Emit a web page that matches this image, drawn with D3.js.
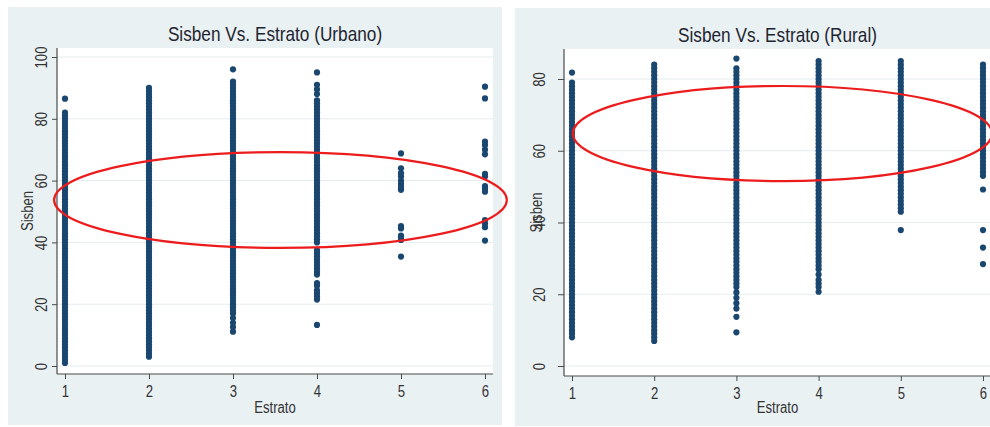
<!DOCTYPE html>
<html><head><meta charset="utf-8">
<script src="https://cdn.jsdelivr.net/npm/d3@7"></script>
<style>html,body{margin:0;padding:0;background:#fff;} svg{display:block;}</style>
</head><body>
<svg id="chart" width="990" height="427"></svg>
<script>
// ---------- DATA ----------
const categories = [1, 2, 3, 4, 5, 6];

// Urbano: Sisben values for each Estrato
const urbano1 = [1,2,3,4,5,6,7,8,9,10,11,12,13,14,15,16,17,18,19,20,21,22,23,24,25,26,27,28,29,30,31,32,33,34,35,36,37,38,39,40,41,42,43,44,45,46,47,48,49,50,51,52,53,54,55,56,57,58,59,60,61,62,63,64,65,66,67,68,69,70,71,72,73,74,75,76,77,78,79,80,81,82,86.5];
const urbano2 = [3,4,5,6,7,8,9,10,11,12,13,14,15,16,17,18,19,20,21,22,23,24,25,26,27,28,29,30,31,32,33,34,35,36,37,38,39,40,41,42,43,44,45,46,47,48,49,50,51,52,53,54,55,56,57,58,59,60,61,62,63,64,65,66,67,68,69,70,71,72,73,74,75,76,77,78,79,80,81,82,83,84,85,86,87,88,89,90];
const urbano3 = [11.1,12.6,14,15.5,17,18,19,20,21,22,23,24,25,26,27,28,29,30,31,32,33,34,35,36,37,38,39,40,41,42,43,44,45,46,47,48,49,50,51,52,53,54,55,56,57,58,59,60,61,62,63,64,65,66,67,68,69,70,71,72,73,74,75,76,77,78,79,80,81,82,83,84,85,86,87,88,89,90,91,92,96];
const urbano4 = [13.3,21.5,22.5,23.5,24.5,26,26.8,29.6,30.5,31.5,32.5,33.5,34.5,35.5,36.5,37.5,40,41,42,43,44,45,46,47,48,49,50,51,52,53,54,55,56,57,58,59,60,61,62,63,64,65,66,67,68,69,70,71,72,73,74,75,76,77,78,79,80,81,82,83,84,85,86,88,89.5,91,95];
const urbano5 = [35.4,40.8,41.6,42.2,44.5,45.3,57,58,59,60,61.3,62.4,64,68.8];
const urbano6 = [40.6,44.9,46,47.2,56.4,57.4,58.2,61.3,62.2,68.5,70,71.5,72.6,86.6,90.4];

// Rural: Sisben values for each Estrato
const rural1 = [8,9,10,11,12,13,14,15,16,17,18,19,20,21,22,23,24,25,26,27,28,29,30,31,32,33,34,35,36,37,38,39,40,41,42,43,44,45,46,47,48,49,50,51,52,53,54,55,56,57,58,59,60,61,62,63,64,65,66,67,68,69,70,71,72,73,74,75,76,77,78,79,81.8];
const rural2 = [7,8,9,10,11,12,13,14,15,16,17,18,19,20,21,22,23,24,25,26,27,28,29,30,31,32,33,34,35,36,37,38,39,40,41,42,43,44,45,46,47,48,49,50,51,52,53,54,55,56,57,58,59,60,61,62,63,64,65,66,67,68,69,70,71,72,73,74,75,76,77,78,79,80,81,82,83,84];
const rural3 = [9.4,13.7,16,17.5,19,20.5,22,23,24,25,26,27,28,29,30,31,32,33,34,35,36,37,38,39,40,41,42,43,44,45,46,47,48,49,50,51,52,53,54,55,56,57,58,59,60,61,62,63,64,65,66,67,68,69,70,71,72,73,74,75,76,77,78,79,80,81,82,83,85.7];
const rural4 = [20.7,22,23,24,25.5,27,28,29,30,31,32,33,34,35,36,37,38,39,40,41,42,43,44,45,46,47,48,49,50,51,52,53,54,55,56,57,58,59,60,61,62,63,64,65,66,67,68,69,70,71,72,73,74,75,76,77,78,79,80,81,82,83,84,85];
const rural5 = [37.9,43,44,45,46,47,48,49,50,51,52,53,54,55,56,57,58,59,60,61,62,63,64,65,66,67,68,69,70,71,72,73,74,75,76,77,78,79,80,81,82,83,84,85];
const rural6 = [28.4,33,37.9,49.2,53,54,55,56,57,58,59,60,61,62,63,64,65,66,67,68,69,70,71,72,73,74,75,76,77,78,79,80,81,82,83,84];

const urbanoSeries = [urbano1, urbano2, urbano3, urbano4, urbano5, urbano6];
const ruralSeries = [rural1, rural2, rural3, rural4, rural5, rural6];

const urbanoYTicks = [0, 20, 40, 60, 80, 100];
const ruralYTicks = [0, 20, 40, 60, 80];

// annotation ellipses in data units: [center Estrato, center Sisben, radius Estrato, radius Sisben]
const urbanoEllipse = [3.565, 53.7, 2.695, 15.5];
const ruralEllipse = [3.56, 64.8, 2.55, 13.25];

const titles = ["Sisben Vs. Estrato (Urbano)", "Sisben Vs. Estrato (Rural)"];
const xTitle = "Estrato";
const yTitle = "Sisben";

// ---------- DRAW ----------
const FONT = "'Liberation Sans',Arial,sans-serif";
const SQ = 0.82; // narrow-font look
const BG = "#eaf1f3";
const DOT = "#1a476f";
const AXIS = "#4a4a4a";
const svg = d3.select("#chart");
svg.append("rect").attr("width", 990).attr("height", 427).attr("fill", "#fff");

const panels = [
  {series: urbanoSeries, ticks: urbanoYTicks, ell: urbanoEllipse, title: titles[0],
   bg: [8, 7, 494, 418], plot: [57, 48, 493, 374], xr: [65, 485], yd: [0, 100], yr: [366, 57],
   tickLen: 5, labOff: 10, yTitleOff: 24, titleY: 41},
  {series: ruralSeries, ticks: ruralYTicks, ell: ruralEllipse, title: titles[1],
   bg: [515, 8, 480, 418], plot: [564, 49, 991, 376], xr: [572, 983], yd: [0, 80], yr: [366, 79],
   tickLen: 6, labOff: 19, yTitleOff: 22, titleY: 42}
];

const ellipses = [];
panels.forEach(p => {
  const g = svg.append("g");
  g.append("rect").attr("x", p.bg[0]).attr("y", p.bg[1]).attr("width", p.bg[2]).attr("height", p.bg[3]).attr("fill", BG);
  g.append("rect").attr("x", p.plot[0]).attr("y", p.plot[1])
    .attr("width", p.plot[2] - p.plot[0]).attr("height", p.plot[3] - p.plot[1]).attr("fill", "#fff");

  const x = d3.scaleLinear().domain([1, 6]).range(p.xr);
  const y = d3.scaleLinear().domain(p.yd).range(p.yr);

  g.append("g").selectAll("line").data(p.ticks).join("line")
    .attr("x1", p.plot[0]).attr("x2", p.plot[2])
    .attr("y1", d => y(d)).attr("y2", d => y(d))
    .attr("stroke", "#e4ecef").attr("stroke-width", 1);

  p.series.forEach((vals, i) => {
    g.append("g").selectAll("circle").data(vals).join("circle")
      .attr("cx", x(categories[i])).attr("cy", d => y(d))
      .attr("r", 3.1).attr("fill", DOT);
  });

  // y axis
  const ya = g.append("g").attr("transform", `translate(${p.plot[0]},0)`)
    .call(d3.axisLeft(y).tickValues(p.ticks).tickFormat(d3.format("d")).tickSize(p.tickLen).tickSizeOuter(0));
  ya.select(".domain").remove();
  ya.selectAll(".tick line").attr("stroke", AXIS);
  ya.selectAll(".tick text")
    .attr("transform", `rotate(-90) scale(${SQ},1)`).attr("x", 0).attr("y", -p.labOff).attr("dy", 0)
    .attr("text-anchor", "middle").attr("fill", "#333")
    .style("font-family", FONT).style("font-size", "16px");
  g.append("line").attr("x1", p.plot[0]).attr("x2", p.plot[0]).attr("y1", p.plot[1]).attr("y2", p.plot[3])
    .attr("stroke", AXIS).attr("stroke-width", 1.2);

  // x axis
  const xa = g.append("g").attr("transform", `translate(0,${p.plot[3]})`)
    .call(d3.axisBottom(x).tickValues(categories).tickFormat(d3.format("d")).tickSize(5).tickPadding(7).tickSizeOuter(0));
  xa.select(".domain").remove();
  xa.selectAll(".tick line").attr("stroke", AXIS);
  xa.selectAll(".tick text").attr("fill", "#333").attr("transform", `scale(${SQ},1)`)
    .style("font-family", FONT).style("font-size", "16px");
  g.append("line").attr("x1", p.plot[0]).attr("x2", p.plot[2]).attr("y1", p.plot[3]).attr("y2", p.plot[3])
    .attr("stroke", AXIS).attr("stroke-width", 1.2);

  const cx = (p.plot[0] + p.plot[2]) / 2;
  const cy = (p.plot[1] + p.plot[3]) / 2;
  g.append("text").attr("transform", `translate(${cx},${p.titleY}) scale(${SQ},1)`).attr("text-anchor", "middle")
    .attr("fill", "#1e2530").style("font-family", FONT).style("font-size", "21px").text(p.title);
  g.append("text").attr("transform", `translate(${cx},413) scale(${SQ},1)`).attr("text-anchor", "middle")
    .attr("fill", "#333").style("font-family", FONT).style("font-size", "16px").text(xTitle);
  g.append("text").attr("transform", `translate(${p.plot[0] - p.yTitleOff},${cy}) rotate(-90) scale(${SQ},1)`)
    .attr("text-anchor", "middle").attr("fill", "#333")
    .style("font-family", FONT).style("font-size", "16px").text(yTitle);

  ellipses.push({p, x, y});
});

ellipses.forEach(({p, x, y}) => {
  const e = p.ell;
  svg.append("ellipse")
    .attr("cx", x(e[0])).attr("cy", y(e[1]))
    .attr("rx", x(e[0] + e[2]) - x(e[0])).attr("ry", y(e[1] - e[3]) - y(e[1]))
    .attr("fill", "none").attr("stroke", "#ec1c1c").attr("stroke-width", 2.2);
});
</script>
</body></html>
